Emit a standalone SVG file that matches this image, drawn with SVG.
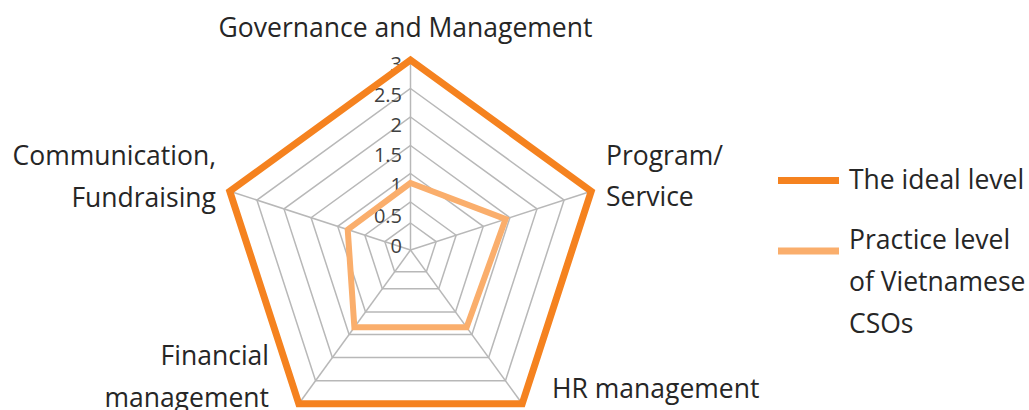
<svg xmlns="http://www.w3.org/2000/svg" width="1029" height="410" viewBox="0 0 1029 410">
<style>
.bg{fill:#ffffff}
.ring{fill:none;stroke:#B8B8B8;stroke-width:1.5}
.spoke{stroke:#B8B8B8;stroke-width:1.5}
.ideal{fill:none;stroke:#F5821F;stroke-width:7;stroke-linejoin:miter}
.practice{fill:none;stroke:#FAAE6C;stroke-width:6;stroke-linejoin:miter}
.lbl{font-family:"Open Sans","Noto Sans","Liberation Sans",sans-serif;font-size:26.5px;fill:#262626}
.tick{font-family:"Open Sans","Noto Sans","Liberation Sans",sans-serif;font-size:20px;fill:#404040;text-anchor:end}
</style>
<rect class="bg" x="0" y="0" width="1029" height="410"/>
<g id="grid">
<polygon class="ring" points="410.5,223 436.18,241.66 426.37,271.84 394.63,271.84 384.82,241.66"/>
<polygon class="ring" points="410.5,202 456.15,235.17 438.71,288.83 382.29,288.83 364.85,235.17"/>
<polygon class="ring" points="410.5,173.5 483.26,226.36 455.47,311.89 365.53,311.89 337.74,226.36"/>
<polygon class="ring" points="410.5,145.5 509.89,217.71 471.92,334.54 349.08,334.54 311.11,217.71"/>
<polygon class="ring" points="410.5,117 536.99,208.90 488.68,357.60 332.32,357.60 284.01,208.90"/>
<polygon class="ring" points="410.5,88.5 564.09,200.09 505.43,380.66 315.57,380.66 256.91,200.09"/>
<polygon class="ring" points="410.5,60 591.20,191.29 522.18,403.71 298.82,403.71 229.80,191.29"/>
<line class="spoke" x1="410.5" y1="250" x2="410.5" y2="60"/>
<line class="spoke" x1="410.5" y1="250" x2="591.20" y2="191.29"/>
<line class="spoke" x1="410.5" y1="250" x2="522.18" y2="403.71"/>
<line class="spoke" x1="410.5" y1="250" x2="298.82" y2="403.71"/>
<line class="spoke" x1="410.5" y1="250" x2="229.80" y2="191.29"/>
</g>
<g id="ticks">
<text class="tick" x="402" y="71">3</text>
<text class="tick" x="402" y="101.5">2.5</text>
<text class="tick" x="402" y="131.5">2</text>
<text class="tick" x="402" y="162">1.5</text>
<text class="tick" x="402" y="192">1</text>
<text class="tick" x="402" y="222.5">0.5</text>
<text class="tick" x="402" y="253">0</text>
</g>
<g id="series">
<polygon id="ideal-level" class="ideal" points="410.5,60 591.20,191.29 522.18,403.71 298.82,403.71 229.80,191.29"/>
<polygon id="practice-level" class="practice" points="410.5,183 505.6,219.1 466.63,327.26 354.37,327.26 347.73,229.6"/>
</g>
<g id="axis-governance"><text class="lbl" x="405.5" y="37" text-anchor="middle">Governance and Management</text></g>
<g id="axis-program"><text class="lbl" x="606" y="165">Program/</text><text class="lbl" x="606" y="206">Service</text></g>
<g id="axis-hr"><text class="lbl" x="552" y="398">HR management</text></g>
<g id="axis-financial"><text class="lbl" x="269" y="365" text-anchor="end">Financial</text><text class="lbl" x="269" y="407" text-anchor="end">management</text></g>
<g id="axis-communication"><text class="lbl" x="216" y="165" text-anchor="end">Communication,</text><text class="lbl" x="216" y="207" text-anchor="end">Fundraising</text></g>
<g id="legend">
<line x1="778" y1="180.5" x2="839" y2="180.5" stroke="#F5821F" stroke-width="7"/>
<text class="lbl" x="849" y="189">The ideal level</text>
<line x1="778" y1="251" x2="839" y2="251" stroke="#FAAE6C" stroke-width="7"/>
<text class="lbl" x="849" y="249">Practice level</text>
<text class="lbl" x="849" y="291">of Vietnamese</text>
<text class="lbl" x="849" y="333">CSOs</text>
</g>
</svg>
